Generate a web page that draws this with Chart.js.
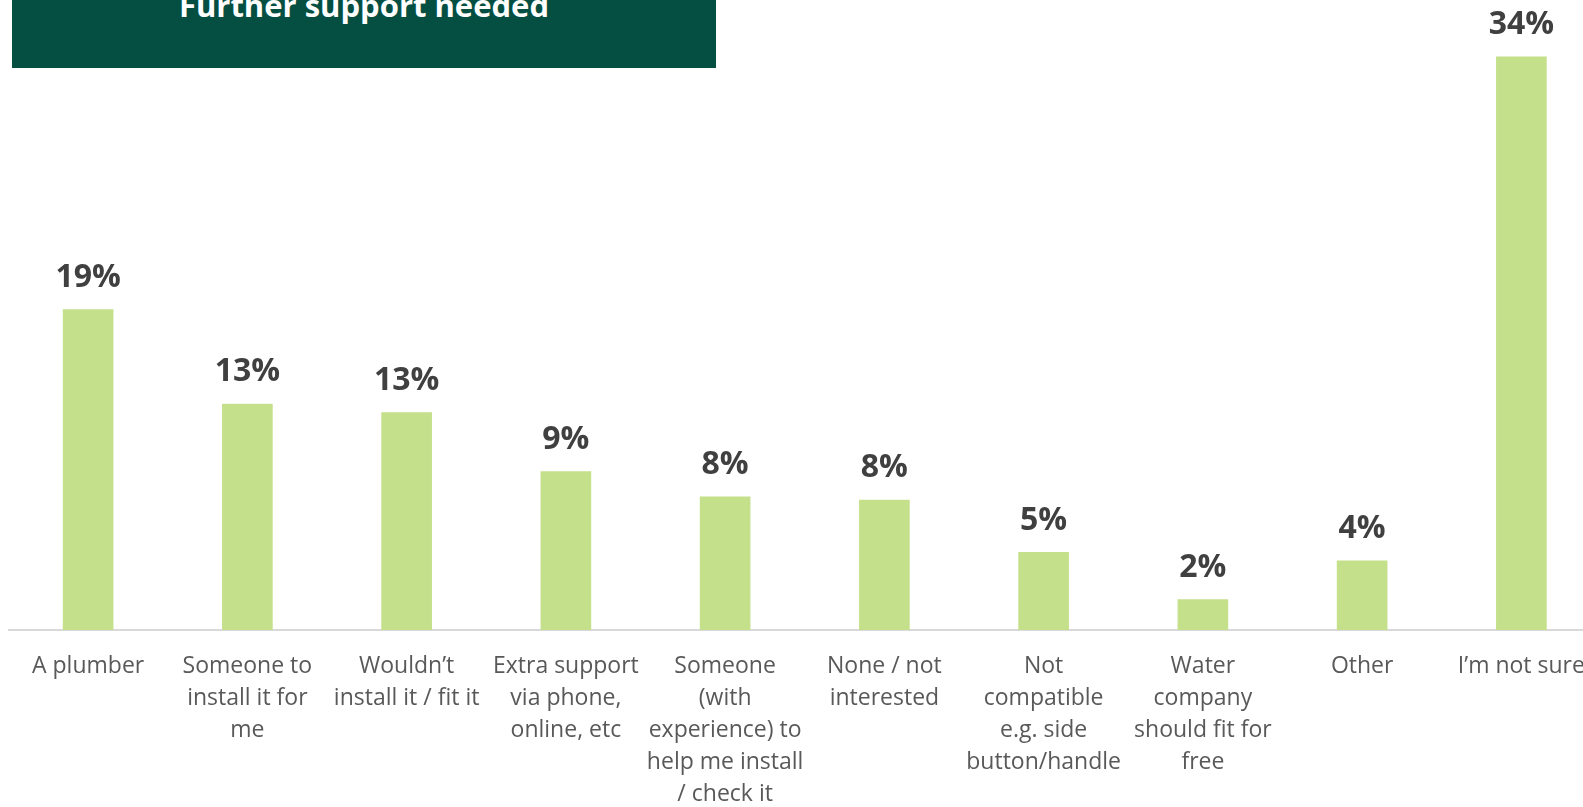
<!DOCTYPE html>
<html>
<head>
<meta charset="utf-8">
<script src="https://cdn.jsdelivr.net/npm/chart.js@4"></script>
<style>
  html, body { margin: 0; padding: 0; width: 1583px; height: 807px; overflow: hidden; background: #ffffff; }
  #wrap { position: relative; width: 1583px; height: 807px; overflow: hidden; }
  #c { position: absolute; left: 0; top: 0; }
  #titlebox { position: absolute; left: 12px; top: 0; width: 704px; height: 68px; background: #044F42; overflow: hidden; }
  #titlebox span { position: absolute; left: 0; width: 100%; top: -10.5px; text-align: center; color: #ffffff;
    font-family: "Open Sans", sans-serif; font-weight: 700; font-size: 31px; line-height: 31px; }
</style>
</head>
<body>
<div id="wrap">
  <canvas id="c" width="1605" height="830"></canvas>
  <div id="titlebox"><span>Further support needed</span></div>
</div>
<script>
const categories = [
  ["A plumber"],
  ["Someone to", "install it for", "me"],
  ["Wouldn’t", "install it / fit it"],
  ["Extra support", "via phone,", "online, etc"],
  ["Someone", "(with", "experience) to", "help me install", "/ check it"],
  ["None / not", "interested"],
  ["Not", "compatible", "e.g. side", "button/handle"],
  ["Water", "company", "should fit for", "free"],
  ["Other"],
  ["I’m not sure"]
];
const values = [19.0, 13.4, 12.9, 9.4, 7.9, 7.7, 4.6, 1.8, 4.1, 34.0];
const valueLabels = ["19%", "13%", "13%", "9%", "8%", "8%", "5%", "2%", "4%", "34%"];

const barLabelPlugin = {
  id: 'barLabels',
  afterDatasetsDraw(chart) {
    const ctx = chart.ctx;
    const meta = chart.getDatasetMeta(0);
    ctx.save();
    ctx.font = 'bold 32px "Open Sans", sans-serif';
    ctx.fillStyle = '#404040';
    ctx.textAlign = 'center';
    ctx.textBaseline = 'middle';
    meta.data.forEach((bar, i) => {
      ctx.fillText(valueLabels[i], bar.x, bar.y - 32);
    });
    ctx.restore();
  }
};

new Chart(document.getElementById('c'), {
  type: 'bar',
  data: {
    labels: categories,
    datasets: [{
      data: values,
      backgroundColor: '#C5E08B',
      borderWidth: 0,
      barThickness: 50
    }]
  },
  options: {
    responsive: false,
    animation: false,
    devicePixelRatio: 1,
    layout: { padding: { left: 8.5, right: 1.5, top: 23, bottom: 0 } },
    plugins: {
      legend: { display: false },
      tooltip: { enabled: false },
      title: { display: false }
    },
    scales: {
      x: {
        grid: { display: false, drawTicks: false },
        border: { display: true, color: '#D9D9D9', width: 2 },
        ticks: {
          autoSkip: false,
          maxRotation: 0,
          minRotation: 0,
          padding: 20,
          color: '#595959',
          font: { family: '"Open Sans", sans-serif', size: 23, lineHeight: 1.4 }
        },
        afterFit(scale) { scale.height = 200; }
      },
      y: {
        display: false,
        min: 0,
        max: 36
      }
    }
  },
  plugins: [barLabelPlugin]
});
</script>
</body>
</html>
